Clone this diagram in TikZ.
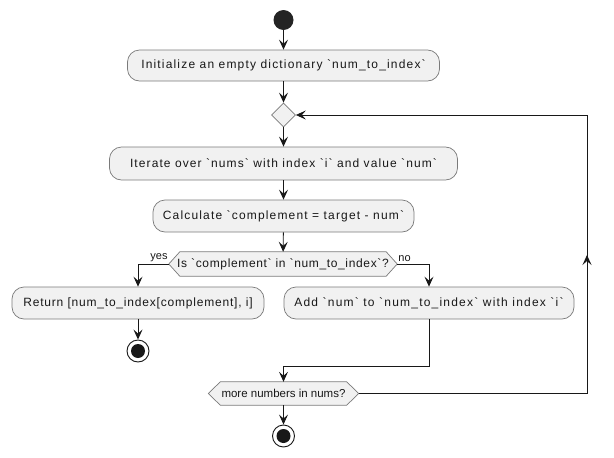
\documentclass[tikz,border=0pt]{standalone}
\usepackage{fontspec}
\setmainfont{Liberation Sans}[Ligatures=TeXOff]
\usetikzlibrary{arrows.meta,backgrounds,calc,shapes.geometric}
\definecolor{boxfill}{HTML}{F1F1F1}
\definecolor{lineclr}{HTML}{181818}
\definecolor{bordclr}{HTML}{7A7A7A}
\newcommand{\ls}[1]{\addfontfeatures{LetterSpace=#1}}
\begin{document}
\begin{tikzpicture}[x=1pt,y=-1pt,
  actbox/.style={draw=bordclr,line width=0.7pt,fill=boxfill,rounded corners=12pt,
    inner sep=0pt,font=\fontsize{12}{14}\selectfont,text=lineclr},
  hextext/.style={inner sep=0pt,font=\fontsize{12}{14}\selectfont,text=lineclr},
  hexshape/.style={draw=bordclr,line width=0.7pt,fill=boxfill},
  flow/.style={draw=lineclr,line width=0.9pt,-{Stealth[length=10pt,width=9pt,inset=4pt]}},
  lbl/.style={inner sep=1pt,font=\fontsize{11}{12}\selectfont,text=lineclr},
  startdot/.style={circle,fill=lineclr!95!white,draw=none,minimum size=20pt,inner sep=0pt},
  stopring/.style={circle,draw=lineclr,line width=0.9pt,fill=white,minimum size=22pt,inner sep=0pt},
  stopdot/.style={circle,fill=lineclr,minimum size=14pt,inner sep=0pt}
]
\useasboundingbox (0,0) rectangle (614,458);

\node[startdot] (start) at (283.5,20) {};
\node[actbox,minimum width=312pt,minimum height=31pt] (init) at (283.5,65.5)
  {\ls{9.8}Initialize an empty dictionary `num\_to\_index`};
\node[hexshape,diamond,minimum width=24pt,minimum height=24pt,inner sep=0pt] (d1) at (283.5,115) {};
\node[actbox,minimum width=348pt,minimum height=33pt] (iter) at (283.5,163.5)
  {\ls{9.1}Iterate over `nums` with index `i` and value `num`};
\node[actbox,minimum width=261pt,minimum height=32pt] (calc) at (283.5,216)
  {\ls{9.7}Calculate `complement = target - num`};
\node[hextext,minimum width=228pt,minimum height=24pt] (dec) at (283,264)
  {\ls{5.4}Is `complement` in `num\_to\_index`?};
\node[actbox,minimum width=252pt,minimum height=32pt] (ret) at (138,303)
  {\ls{6.7}Return [num\_to\_index[complement], i]};
\node[actbox,minimum width=290pt,minimum height=32pt] (add) at (429,303)
  {\ls{10.1}Add `num` to `num\_to\_index` with index `i`};
\node[stopring] (stop1) at (138,351) {};
\node[stopdot] at (stop1) {};
\node[hextext,font=\fontsize{11.5}{13}\selectfont,minimum width=150pt,minimum height=23pt] (more) at (283.5,393.5)
  {more numbers in nums?};
\node[stopring] (stop2) at (283.5,436) {};
\node[stopdot] at (stop2) {};

\begin{scope}[on background layer]
\draw[hexshape] (dec.west) -- ([xshift=11pt]dec.north west) -- ([xshift=-11pt]dec.north east)
  -- (dec.east) -- ([xshift=-11pt]dec.south east) -- ([xshift=11pt]dec.south west) -- cycle;
\draw[hexshape] (more.west) -- ([xshift=12pt]more.north west) -- ([xshift=-12pt]more.north east)
  -- (more.east) -- ([xshift=-12pt]more.south east) -- ([xshift=12pt]more.south west) -- cycle;
\end{scope}

\coordinate (join) at (283.5,366);
\coordinate (loopx) at (587,0);
\coordinate (loopmid) at (587,255);

\draw[flow] (start) -- (init);
\draw[flow] (init) -- (d1);
\draw[flow] (d1) -- (iter);
\draw[flow] (iter) -- (calc);
\draw[flow] (calc) -- (dec);
\draw[flow] (dec.west) -| (ret.north);
\draw[flow] (dec.east) -| (add.north);
\node[lbl,anchor=south east] (yes) at ([yshift=1pt]dec.west) {yes};
\node[lbl,anchor=south west] (no) at ([yshift=1pt]dec.east) {no};
\draw[flow] (ret) -- (stop1);
\draw[flow] (add.south) |- (join) -- (more.north);
\draw[flow] (more) -- (stop2);
\draw[flow] (more.east) -- (more.east -| loopx) -- (d1.east -| loopx) -- (d1.east);
\draw[flow] (more.east -| loopx) -- (loopmid);
\end{tikzpicture}
\end{document}
